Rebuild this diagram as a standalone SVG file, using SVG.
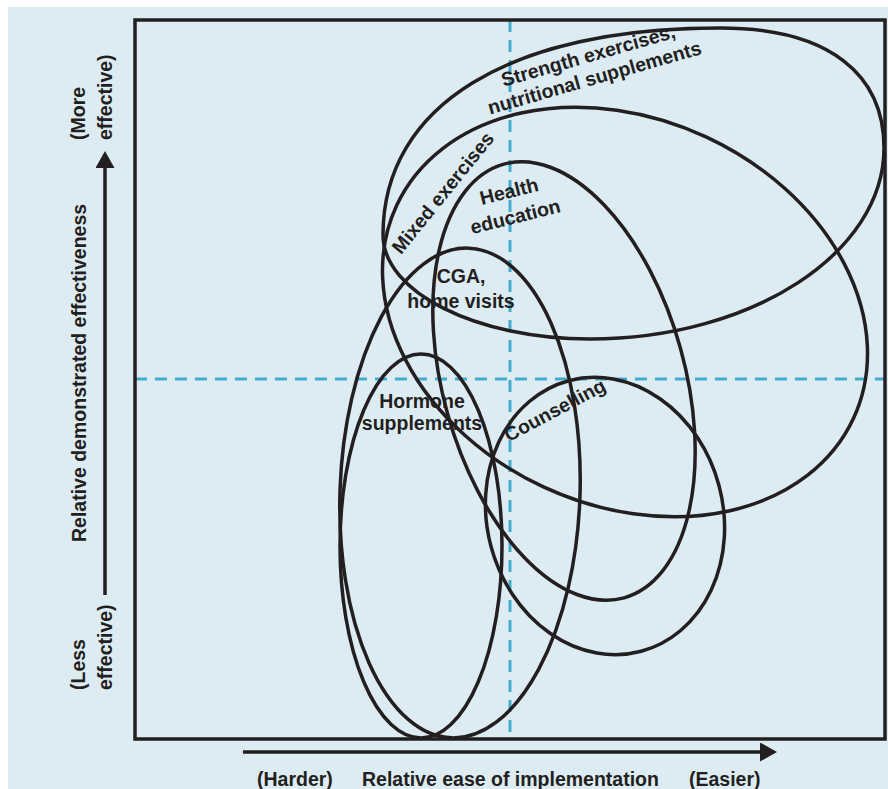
<svg xmlns="http://www.w3.org/2000/svg" width="888" height="789" viewBox="0 0 888 789">
<defs>
<style>
.bg{fill:#ddecf3}
.frame{fill:none;stroke:#231f20;stroke-width:3.5}
.dash{stroke:#45aacb;stroke-width:3;stroke-dasharray:12 8;fill:none}
.ell{fill:none;stroke:#231f20;stroke-width:3.5}
.axis{stroke:#231f20;stroke-width:3.5;fill:none}
text{font-family:"Liberation Sans",Arial,sans-serif;font-weight:bold;font-size:19.5px;fill:#231f20}
</style>
<marker id="arrow" markerUnits="userSpaceOnUse" markerWidth="18" markerHeight="20" refX="0" refY="9.5" orient="auto">
<path d="M0,0 L17,9.5 L0,19 z" fill="#231f20"/>
</marker>
</defs>
<rect class="bg" x="8" y="7" width="880" height="782"/>
<g id="guides">
<line class="dash" x1="510" y1="20" x2="510" y2="739"/>
<line class="dash" x1="135" y1="379" x2="885" y2="379"/>
</g>
<rect class="frame" x="135" y="20" width="750" height="719"/>
<g id="connectors">
<line class="axis" x1="105" y1="595" x2="105" y2="168" marker-end="url(#arrow)"/>
<line class="axis" x1="243" y1="752" x2="760" y2="752" marker-end="url(#arrow)"/>
</g>
<g id="y-axis-labels">
<text transform="translate(85,140) rotate(-90)"><tspan x="0" y="0">(More</tspan><tspan x="0" y="27">effective)</tspan></text>
<text transform="translate(86,542) rotate(-90)">Relative demonstrated effectiveness</text>
<text transform="translate(85,690) rotate(-90)"><tspan x="0" y="0">(Less</tspan><tspan x="0" y="27">effective)</tspan></text>
</g>
<g id="x-axis-labels">
<text x="257" y="786">(Harder)</text>
<text x="362" y="786">Relative ease of implementation</text>
<text x="689" y="786">(Easier)</text>
</g>
<g id="node-strength">
<path class="ell" d="M383,235 C383,105 510,28 720,28 C830,28 884,75 884,148 C884,253 752,339 590,339 C476,339 383,292 383,235 Z"/>
<text transform="translate(590,62) rotate(-16)" text-anchor="middle"><tspan x="0" y="0">Strength exercises,</tspan><tspan x="0" y="23">nutritional supplements</tspan></text>
</g>
<g id="node-mixed">
<ellipse class="ell" cx="625" cy="312" rx="252" ry="193" transform="rotate(25 625 312)"/>
<text transform="translate(448,197) rotate(-51)" text-anchor="middle">Mixed exercises</text>
</g>
<g id="node-health">
<ellipse class="ell" cx="564" cy="381" rx="121" ry="225" transform="rotate(-15.5 564 381)"/>
<text transform="translate(517,223) rotate(-14)" text-anchor="middle"><tspan x="0" y="-26">Health</tspan><tspan x="0" y="0">education</tspan></text>
</g>
<g id="node-cga">
<ellipse class="ell" cx="460" cy="493" rx="120" ry="245" transform="rotate(2 460 493)"/>
<text text-anchor="middle"><tspan x="461" y="283">CGA,</tspan><tspan x="461" y="308">home visits</tspan></text>
</g>
<g id="node-hormone">
<ellipse class="ell" cx="421" cy="546" rx="81" ry="192"/>
<text text-anchor="middle"><tspan x="422" y="408">Hormone</tspan><tspan x="422" y="430">supplements</tspan></text>
</g>
<g id="node-counselling">
<ellipse class="ell" cx="605" cy="516" rx="118" ry="140" transform="rotate(-15 605 516)"/>
<text transform="translate(558,416) rotate(-28)" text-anchor="middle">Counselling</text>
</g>
</svg>
